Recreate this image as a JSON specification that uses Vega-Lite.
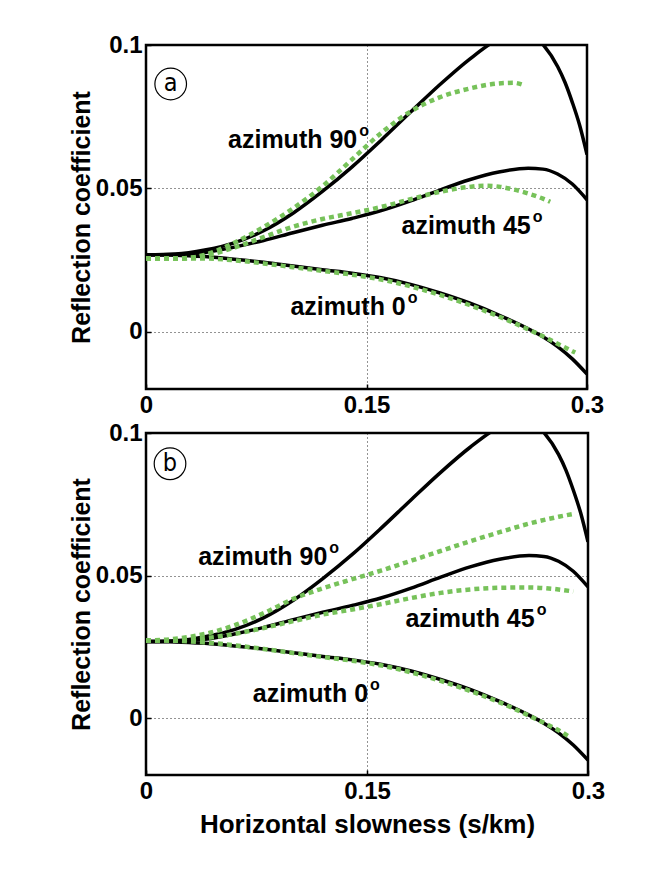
{
  "$schema": "https://vega.github.io/schema/vega-lite/v6.json",
  "background": "white",
  "padding": {"left": 68, "top": 31, "right": 5, "bottom": 5},
  "bounds": "full",
  "spacing": 0,
  "config": {
    "view": {"stroke": "black", "strokeWidth": 2.5},
    "font": "Liberation Sans",
    "axis": {
      "domain": false,
      "grid": true,
      "gridColor": "#000000",
      "gridDash": [1, 3],
      "gridWidth": 1,
      "gridOpacity": 0.85,
      "ticks": true,
      "tickColor": "#000000",
      "tickSize": -5,
      "tickWidth": 1.5,
      "labelFont": "Liberation Sans",
      "labelFontWeight": "bold",
      "labelFontSize": 24,
      "labelColor": "#000000",
      "titleFont": "Liberation Sans",
      "titleFontWeight": "bold",
      "titleFontSize": 25,
      "titleColor": "#000000"
    }
  },
  "datasets": {
    "curvesA": [
      {"model": "exact", "series": "90", "x": 0, "y": 0.0268},
      {"model": "exact", "series": "90", "x": 0.02, "y": 0.0271},
      {"model": "exact", "series": "90", "x": 0.04, "y": 0.0285},
      {"model": "exact", "series": "90", "x": 0.06, "y": 0.0310},
      {"model": "exact", "series": "90", "x": 0.08, "y": 0.0352},
      {"model": "exact", "series": "90", "x": 0.10, "y": 0.0413},
      {"model": "exact", "series": "90", "x": 0.12, "y": 0.0489},
      {"model": "exact", "series": "90", "x": 0.14, "y": 0.0574},
      {"model": "exact", "series": "90", "x": 0.16, "y": 0.0668},
      {"model": "exact", "series": "90", "x": 0.18, "y": 0.0766},
      {"model": "exact", "series": "90", "x": 0.20, "y": 0.0862},
      {"model": "exact", "series": "90", "x": 0.22, "y": 0.0950},
      {"model": "exact", "series": "90", "x": 0.24, "y": 0.1022},
      {"model": "exact", "series": "90", "x": 0.25, "y": 0.1042},
      {"model": "exact", "series": "90", "x": 0.26, "y": 0.1046},
      {"model": "exact", "series": "90", "x": 0.27, "y": 0.1002},
      {"model": "exact", "series": "90", "x": 0.28, "y": 0.0925},
      {"model": "exact", "series": "90", "x": 0.285, "y": 0.0870},
      {"model": "exact", "series": "90", "x": 0.29, "y": 0.0800},
      {"model": "exact", "series": "90", "x": 0.295, "y": 0.0720},
      {"model": "exact", "series": "90", "x": 0.30, "y": 0.0618},
      {"model": "exact", "series": "45", "x": 0, "y": 0.0268},
      {"model": "exact", "series": "45", "x": 0.02, "y": 0.0269},
      {"model": "exact", "series": "45", "x": 0.04, "y": 0.0276},
      {"model": "exact", "series": "45", "x": 0.06, "y": 0.0295},
      {"model": "exact", "series": "45", "x": 0.08, "y": 0.0318},
      {"model": "exact", "series": "45", "x": 0.10, "y": 0.0345},
      {"model": "exact", "series": "45", "x": 0.12, "y": 0.0371},
      {"model": "exact", "series": "45", "x": 0.14, "y": 0.0395},
      {"model": "exact", "series": "45", "x": 0.16, "y": 0.0422},
      {"model": "exact", "series": "45", "x": 0.18, "y": 0.0456},
      {"model": "exact", "series": "45", "x": 0.20, "y": 0.0494},
      {"model": "exact", "series": "45", "x": 0.22, "y": 0.0530},
      {"model": "exact", "series": "45", "x": 0.24, "y": 0.0557},
      {"model": "exact", "series": "45", "x": 0.26, "y": 0.0570},
      {"model": "exact", "series": "45", "x": 0.27, "y": 0.0567},
      {"model": "exact", "series": "45", "x": 0.28, "y": 0.0550},
      {"model": "exact", "series": "45", "x": 0.29, "y": 0.0515},
      {"model": "exact", "series": "45", "x": 0.30, "y": 0.0460},
      {"model": "exact", "series": "0", "x": 0, "y": 0.0268},
      {"model": "exact", "series": "0", "x": 0.02, "y": 0.0267},
      {"model": "exact", "series": "0", "x": 0.04, "y": 0.0262},
      {"model": "exact", "series": "0", "x": 0.06, "y": 0.0253},
      {"model": "exact", "series": "0", "x": 0.08, "y": 0.0242},
      {"model": "exact", "series": "0", "x": 0.10, "y": 0.0229},
      {"model": "exact", "series": "0", "x": 0.12, "y": 0.0216},
      {"model": "exact", "series": "0", "x": 0.14, "y": 0.0204},
      {"model": "exact", "series": "0", "x": 0.16, "y": 0.0188},
      {"model": "exact", "series": "0", "x": 0.18, "y": 0.0165},
      {"model": "exact", "series": "0", "x": 0.20, "y": 0.0135},
      {"model": "exact", "series": "0", "x": 0.22, "y": 0.0100},
      {"model": "exact", "series": "0", "x": 0.24, "y": 0.0058},
      {"model": "exact", "series": "0", "x": 0.26, "y": 0.0010},
      {"model": "exact", "series": "0", "x": 0.27, "y": -0.0018},
      {"model": "exact", "series": "0", "x": 0.28, "y": -0.0052},
      {"model": "exact", "series": "0", "x": 0.29, "y": -0.0095},
      {"model": "exact", "series": "0", "x": 0.30, "y": -0.0148},
      {"model": "approx", "series": "90", "x": 0, "y": 0.0255},
      {"model": "approx", "series": "90", "x": 0.02, "y": 0.0255},
      {"model": "approx", "series": "90", "x": 0.03, "y": 0.0258},
      {"model": "approx", "series": "90", "x": 0.04, "y": 0.0268},
      {"model": "approx", "series": "90", "x": 0.06, "y": 0.0310},
      {"model": "approx", "series": "90", "x": 0.08, "y": 0.0365},
      {"model": "approx", "series": "90", "x": 0.10, "y": 0.0430},
      {"model": "approx", "series": "90", "x": 0.12, "y": 0.0507},
      {"model": "approx", "series": "90", "x": 0.14, "y": 0.0600},
      {"model": "approx", "series": "90", "x": 0.16, "y": 0.0693},
      {"model": "approx", "series": "90", "x": 0.18, "y": 0.0768},
      {"model": "approx", "series": "90", "x": 0.20, "y": 0.0818},
      {"model": "approx", "series": "90", "x": 0.22, "y": 0.0848},
      {"model": "approx", "series": "90", "x": 0.24, "y": 0.0866},
      {"model": "approx", "series": "90", "x": 0.25, "y": 0.0868},
      {"model": "approx", "series": "90", "x": 0.257, "y": 0.0860},
      {"model": "approx", "series": "45", "x": 0, "y": 0.0255},
      {"model": "approx", "series": "45", "x": 0.02, "y": 0.0255},
      {"model": "approx", "series": "45", "x": 0.03, "y": 0.0257},
      {"model": "approx", "series": "45", "x": 0.04, "y": 0.0265},
      {"model": "approx", "series": "45", "x": 0.06, "y": 0.0293},
      {"model": "approx", "series": "45", "x": 0.08, "y": 0.0330},
      {"model": "approx", "series": "45", "x": 0.10, "y": 0.0366},
      {"model": "approx", "series": "45", "x": 0.12, "y": 0.0393},
      {"model": "approx", "series": "45", "x": 0.14, "y": 0.0413},
      {"model": "approx", "series": "45", "x": 0.16, "y": 0.0435},
      {"model": "approx", "series": "45", "x": 0.18, "y": 0.0462},
      {"model": "approx", "series": "45", "x": 0.20, "y": 0.0488},
      {"model": "approx", "series": "45", "x": 0.22, "y": 0.0505},
      {"model": "approx", "series": "45", "x": 0.23, "y": 0.0509},
      {"model": "approx", "series": "45", "x": 0.24, "y": 0.0506},
      {"model": "approx", "series": "45", "x": 0.25, "y": 0.0496},
      {"model": "approx", "series": "45", "x": 0.26, "y": 0.0482},
      {"model": "approx", "series": "45", "x": 0.27, "y": 0.0464},
      {"model": "approx", "series": "45", "x": 0.275, "y": 0.0453},
      {"model": "approx", "series": "0", "x": 0, "y": 0.0255},
      {"model": "approx", "series": "0", "x": 0.02, "y": 0.0255},
      {"model": "approx", "series": "0", "x": 0.04, "y": 0.0255},
      {"model": "approx", "series": "0", "x": 0.06, "y": 0.0249},
      {"model": "approx", "series": "0", "x": 0.08, "y": 0.0238},
      {"model": "approx", "series": "0", "x": 0.10, "y": 0.0225},
      {"model": "approx", "series": "0", "x": 0.12, "y": 0.0212},
      {"model": "approx", "series": "0", "x": 0.14, "y": 0.0199},
      {"model": "approx", "series": "0", "x": 0.16, "y": 0.0182},
      {"model": "approx", "series": "0", "x": 0.18, "y": 0.0158},
      {"model": "approx", "series": "0", "x": 0.20, "y": 0.0128},
      {"model": "approx", "series": "0", "x": 0.22, "y": 0.0093},
      {"model": "approx", "series": "0", "x": 0.24, "y": 0.0053},
      {"model": "approx", "series": "0", "x": 0.26, "y": 0.0008},
      {"model": "approx", "series": "0", "x": 0.27, "y": -0.0016},
      {"model": "approx", "series": "0", "x": 0.28, "y": -0.0042},
      {"model": "approx", "series": "0", "x": 0.29, "y": -0.0068},
      {"model": "approx", "series": "0", "x": 0.292, "y": -0.0073}
    ],
    "curvesB": [
      {"model": "exact", "series": "90", "x": 0, "y": 0.0268},
      {"model": "exact", "series": "90", "x": 0.02, "y": 0.0271},
      {"model": "exact", "series": "90", "x": 0.04, "y": 0.0285},
      {"model": "exact", "series": "90", "x": 0.06, "y": 0.0310},
      {"model": "exact", "series": "90", "x": 0.08, "y": 0.0352},
      {"model": "exact", "series": "90", "x": 0.10, "y": 0.0413},
      {"model": "exact", "series": "90", "x": 0.12, "y": 0.0489},
      {"model": "exact", "series": "90", "x": 0.14, "y": 0.0574},
      {"model": "exact", "series": "90", "x": 0.16, "y": 0.0668},
      {"model": "exact", "series": "90", "x": 0.18, "y": 0.0766},
      {"model": "exact", "series": "90", "x": 0.20, "y": 0.0862},
      {"model": "exact", "series": "90", "x": 0.22, "y": 0.0950},
      {"model": "exact", "series": "90", "x": 0.24, "y": 0.1022},
      {"model": "exact", "series": "90", "x": 0.25, "y": 0.1042},
      {"model": "exact", "series": "90", "x": 0.26, "y": 0.1046},
      {"model": "exact", "series": "90", "x": 0.27, "y": 0.1002},
      {"model": "exact", "series": "90", "x": 0.28, "y": 0.0925},
      {"model": "exact", "series": "90", "x": 0.285, "y": 0.0870},
      {"model": "exact", "series": "90", "x": 0.29, "y": 0.0800},
      {"model": "exact", "series": "90", "x": 0.295, "y": 0.0720},
      {"model": "exact", "series": "90", "x": 0.30, "y": 0.0618},
      {"model": "exact", "series": "45", "x": 0, "y": 0.0268},
      {"model": "exact", "series": "45", "x": 0.02, "y": 0.0269},
      {"model": "exact", "series": "45", "x": 0.04, "y": 0.0276},
      {"model": "exact", "series": "45", "x": 0.06, "y": 0.0295},
      {"model": "exact", "series": "45", "x": 0.08, "y": 0.0318},
      {"model": "exact", "series": "45", "x": 0.10, "y": 0.0345},
      {"model": "exact", "series": "45", "x": 0.12, "y": 0.0371},
      {"model": "exact", "series": "45", "x": 0.14, "y": 0.0395},
      {"model": "exact", "series": "45", "x": 0.16, "y": 0.0422},
      {"model": "exact", "series": "45", "x": 0.18, "y": 0.0456},
      {"model": "exact", "series": "45", "x": 0.20, "y": 0.0494},
      {"model": "exact", "series": "45", "x": 0.22, "y": 0.0530},
      {"model": "exact", "series": "45", "x": 0.24, "y": 0.0557},
      {"model": "exact", "series": "45", "x": 0.26, "y": 0.0570},
      {"model": "exact", "series": "45", "x": 0.27, "y": 0.0567},
      {"model": "exact", "series": "45", "x": 0.28, "y": 0.0550},
      {"model": "exact", "series": "45", "x": 0.29, "y": 0.0515},
      {"model": "exact", "series": "45", "x": 0.30, "y": 0.0460},
      {"model": "exact", "series": "0", "x": 0, "y": 0.0268},
      {"model": "exact", "series": "0", "x": 0.02, "y": 0.0267},
      {"model": "exact", "series": "0", "x": 0.04, "y": 0.0262},
      {"model": "exact", "series": "0", "x": 0.06, "y": 0.0253},
      {"model": "exact", "series": "0", "x": 0.08, "y": 0.0242},
      {"model": "exact", "series": "0", "x": 0.10, "y": 0.0229},
      {"model": "exact", "series": "0", "x": 0.12, "y": 0.0216},
      {"model": "exact", "series": "0", "x": 0.14, "y": 0.0204},
      {"model": "exact", "series": "0", "x": 0.16, "y": 0.0188},
      {"model": "exact", "series": "0", "x": 0.18, "y": 0.0165},
      {"model": "exact", "series": "0", "x": 0.20, "y": 0.0135},
      {"model": "exact", "series": "0", "x": 0.22, "y": 0.0100},
      {"model": "exact", "series": "0", "x": 0.24, "y": 0.0058},
      {"model": "exact", "series": "0", "x": 0.26, "y": 0.0010},
      {"model": "exact", "series": "0", "x": 0.27, "y": -0.0018},
      {"model": "exact", "series": "0", "x": 0.28, "y": -0.0052},
      {"model": "exact", "series": "0", "x": 0.29, "y": -0.0095},
      {"model": "exact", "series": "0", "x": 0.30, "y": -0.0148},
      {"model": "approx", "series": "90", "x": 0, "y": 0.0272},
      {"model": "approx", "series": "90", "x": 0.02, "y": 0.0278},
      {"model": "approx", "series": "90", "x": 0.04, "y": 0.0295},
      {"model": "approx", "series": "90", "x": 0.06, "y": 0.0325},
      {"model": "approx", "series": "90", "x": 0.08, "y": 0.0368},
      {"model": "approx", "series": "90", "x": 0.10, "y": 0.0418},
      {"model": "approx", "series": "90", "x": 0.12, "y": 0.0455},
      {"model": "approx", "series": "90", "x": 0.14, "y": 0.0487},
      {"model": "approx", "series": "90", "x": 0.16, "y": 0.0518},
      {"model": "approx", "series": "90", "x": 0.18, "y": 0.0552},
      {"model": "approx", "series": "90", "x": 0.20, "y": 0.0586},
      {"model": "approx", "series": "90", "x": 0.22, "y": 0.0620},
      {"model": "approx", "series": "90", "x": 0.24, "y": 0.0652},
      {"model": "approx", "series": "90", "x": 0.26, "y": 0.0682},
      {"model": "approx", "series": "90", "x": 0.28, "y": 0.0706},
      {"model": "approx", "series": "90", "x": 0.29, "y": 0.0716},
      {"model": "approx", "series": "45", "x": 0, "y": 0.0272},
      {"model": "approx", "series": "45", "x": 0.02, "y": 0.0273},
      {"model": "approx", "series": "45", "x": 0.04, "y": 0.0280},
      {"model": "approx", "series": "45", "x": 0.06, "y": 0.0295},
      {"model": "approx", "series": "45", "x": 0.08, "y": 0.0316},
      {"model": "approx", "series": "45", "x": 0.10, "y": 0.0340},
      {"model": "approx", "series": "45", "x": 0.12, "y": 0.0363},
      {"model": "approx", "series": "45", "x": 0.14, "y": 0.0381},
      {"model": "approx", "series": "45", "x": 0.16, "y": 0.0400},
      {"model": "approx", "series": "45", "x": 0.18, "y": 0.0421},
      {"model": "approx", "series": "45", "x": 0.20, "y": 0.0439},
      {"model": "approx", "series": "45", "x": 0.22, "y": 0.0451},
      {"model": "approx", "series": "45", "x": 0.24, "y": 0.0457},
      {"model": "approx", "series": "45", "x": 0.26, "y": 0.0458},
      {"model": "approx", "series": "45", "x": 0.28, "y": 0.0451},
      {"model": "approx", "series": "45", "x": 0.29, "y": 0.0444},
      {"model": "approx", "series": "0", "x": 0, "y": 0.0272},
      {"model": "approx", "series": "0", "x": 0.02, "y": 0.0271},
      {"model": "approx", "series": "0", "x": 0.04, "y": 0.0265},
      {"model": "approx", "series": "0", "x": 0.06, "y": 0.0255},
      {"model": "approx", "series": "0", "x": 0.08, "y": 0.0242},
      {"model": "approx", "series": "0", "x": 0.10, "y": 0.0228},
      {"model": "approx", "series": "0", "x": 0.12, "y": 0.0214},
      {"model": "approx", "series": "0", "x": 0.14, "y": 0.0201},
      {"model": "approx", "series": "0", "x": 0.16, "y": 0.0184},
      {"model": "approx", "series": "0", "x": 0.18, "y": 0.0160},
      {"model": "approx", "series": "0", "x": 0.20, "y": 0.0130},
      {"model": "approx", "series": "0", "x": 0.22, "y": 0.0095},
      {"model": "approx", "series": "0", "x": 0.24, "y": 0.0055},
      {"model": "approx", "series": "0", "x": 0.26, "y": 0.0008},
      {"model": "approx", "series": "0", "x": 0.27, "y": -0.0017},
      {"model": "approx", "series": "0", "x": 0.28, "y": -0.0043},
      {"model": "approx", "series": "0", "x": 0.288, "y": -0.0068}
    ],
    "labelsA": [
      {"label": "azimuth 90", "x": 0.1437, "y": 0.0640},
      {"label": "azimuth 45", "x": 0.2617, "y": 0.0341},
      {"label": "azimuth 0", "x": 0.1767, "y": 0.0058}
    ],
    "labelsB": [
      {"label": "azimuth 90", "x": 0.1231, "y": 0.0537},
      {"label": "azimuth 45", "x": 0.2638, "y": 0.0320},
      {"label": "azimuth 0", "x": 0.1507, "y": 0.0057}
    ],
    "tagA": [{"tag": "a", "x": 0.0168, "y": 0.0864}],
    "tagB": [{"tag": "b", "x": 0.0163, "y": 0.0892}]
  },
  "vconcat": [
    {
      "width": 441,
      "height": 344,
      "encoding": {
        "x": {"field": "x", "type": "quantitative", "scale": {"domain": [0, 0.3], "nice": false, "zero": false},
              "axis": {"values": [0, 0.15, 0.3], "format": ".2~f", "title": null, "labelFlush": false, "labelPadding": 9, "labelFontSize": 24}},
        "y": {"field": "y", "type": "quantitative", "scale": {"domain": [-0.02, 0.1], "nice": false, "zero": false},
              "axis": {"values": [0, 0.05, 0.1], "format": ".2~f", "title": "Reflection coefficient", "labelPadding": 9, "labelFontSize": 24, "titlePadding": 1}}
      },
      "layer": [
        {"data": {"name": "curvesA"}, "transform": [{"filter": "datum.model == 'exact'"}],
         "mark": {"type": "line", "clip": true, "color": "#000000", "strokeWidth": 3.5, "interpolate": "monotone"},
         "encoding": {"detail": {"field": "series"}}},
        {"data": {"name": "curvesA"}, "transform": [{"filter": "datum.model == 'approx'"}],
         "mark": {"type": "line", "clip": true, "color": "#77c25a", "strokeWidth": 4.5, "strokeDash": [5, 4], "strokeCap": "butt", "interpolate": "monotone"},
         "encoding": {"detail": {"field": "series"}}},
        {"data": {"name": "labelsA"},
         "mark": {"type": "text", "align": "right", "baseline": "alphabetic", "font": "Liberation Sans", "fontWeight": "bold", "fontSize": 25, "color": "#000000"},
         "encoding": {"text": {"field": "label"}}},
        {"data": {"name": "labelsA"},
         "mark": {"type": "text", "text": "o", "align": "left", "baseline": "alphabetic", "dx": 2, "dy": -12, "font": "Liberation Sans", "fontWeight": "bold", "fontSize": 16, "color": "#000000"}},
        {"data": {"name": "tagA"},
         "mark": {"type": "point", "shape": "circle", "filled": false, "size": 1000, "stroke": "#000000", "strokeWidth": 1.2, "opacity": 1}},
        {"data": {"name": "tagA"},
         "mark": {"type": "text", "align": "center", "baseline": "middle", "dy": -1, "font": "'Liberation Sans Narrow', 'DejaVu Sans Condensed', 'Liberation Sans', sans-serif", "fontSize": 25, "color": "#000000"},
         "encoding": {"text": {"field": "tag"}}}
      ]
    },
    {
      "width": 442,
      "height": 342,
      "encoding": {
        "x": {"field": "x", "type": "quantitative", "scale": {"domain": [0, 0.3], "nice": false, "zero": false},
              "axis": {"values": [0, 0.15, 0.3], "format": ".2~f", "title": "Horizontal slowness (s/km)", "labelFlush": false, "labelPadding": 9, "labelFontSize": 24, "titleFontSize": 26, "titlePadding": 8}},
        "y": {"field": "y", "type": "quantitative", "scale": {"domain": [-0.02, 0.1], "nice": false, "zero": false},
              "axis": {"values": [0, 0.05, 0.1], "format": ".2~f", "title": "Reflection coefficient", "labelPadding": 9, "labelFontSize": 24, "titlePadding": 1}}
      },
      "layer": [
        {"data": {"name": "curvesB"}, "transform": [{"filter": "datum.model == 'exact'"}],
         "mark": {"type": "line", "clip": true, "color": "#000000", "strokeWidth": 3.5, "interpolate": "monotone"},
         "encoding": {"detail": {"field": "series"}}},
        {"data": {"name": "curvesB"}, "transform": [{"filter": "datum.model == 'approx'"}],
         "mark": {"type": "line", "clip": true, "color": "#77c25a", "strokeWidth": 4.5, "strokeDash": [5, 4], "strokeCap": "butt", "interpolate": "monotone"},
         "encoding": {"detail": {"field": "series"}}},
        {"data": {"name": "labelsB"},
         "mark": {"type": "text", "align": "right", "baseline": "alphabetic", "font": "Liberation Sans", "fontWeight": "bold", "fontSize": 25, "color": "#000000"},
         "encoding": {"text": {"field": "label"}}},
        {"data": {"name": "labelsB"},
         "mark": {"type": "text", "text": "o", "align": "left", "baseline": "alphabetic", "dx": 2, "dy": -12, "font": "Liberation Sans", "fontWeight": "bold", "fontSize": 16, "color": "#000000"}},
        {"data": {"name": "tagB"},
         "mark": {"type": "point", "shape": "circle", "filled": false, "size": 1000, "stroke": "#000000", "strokeWidth": 1.2, "opacity": 1}},
        {"data": {"name": "tagB"},
         "mark": {"type": "text", "align": "center", "baseline": "middle", "dy": -1, "font": "'Liberation Sans Narrow', 'DejaVu Sans Condensed', 'Liberation Sans', sans-serif", "fontSize": 25, "color": "#000000"},
         "encoding": {"text": {"field": "tag"}}}
      ]
    }
  ]
}
